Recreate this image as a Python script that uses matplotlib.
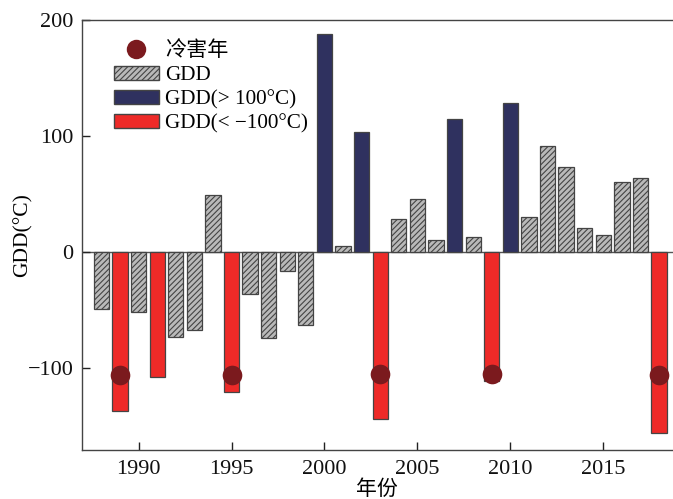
import matplotlib
matplotlib.use("Agg")
import matplotlib.pyplot as plt
from matplotlib.patches import Patch
from matplotlib.lines import Line2D
import numpy as np

years = list(range(1988, 2019))
gdd = [-49, -137, -52, -108, -73, -67, 49, -121, -36, -74, -16, -63,
       188, 5, 103, -144, 28, 46, 10, 115, 13, -111, 128, 30, 91, 73,
       21, 15, 60, 64, -156]
cold_years = [1989, 1995, 2003, 2009, 2018]
cold_marks = [-106, -106, -105, -105, -106]
xticks = [1990, 1995, 2000, 2005, 2010, 2015]
yticks = [-100, 0, 100, 200]

plt.rcParams['font.family'] = ['Liberation Serif', 'Noto Sans CJK SC', 'DejaVu Sans']
plt.rcParams['hatch.color'] = '#333333'
plt.rcParams['hatch.linewidth'] = 0.8

fig = plt.figure(figsize=(6.73, 4.99), dpi=100)
ax = fig.add_axes([0.1214, 0.0982, 0.8786, 0.8618])

gray = '#b9b9b9'
blue = '#2f315f'
red = '#ee2a28'
edge = '#444444'

for y, v in zip(years, gdd):
    if v > 100:
        ax.bar(y, v, width=0.82, color=blue, edgecolor=edge, linewidth=0.9, zorder=2)
    elif v < -100:
        ax.bar(y, v, width=0.82, color=red, edgecolor=edge, linewidth=0.9, zorder=2)
    else:
        ax.bar(y, v, width=0.82, color=gray, edgecolor=edge, linewidth=0.9,
               hatch='//////', zorder=2)

ax.scatter(cold_years, cold_marks, s=200, color='#7b1a1e', zorder=3, linewidths=0)
ax.axhline(0, color='#555555', linewidth=1.0, zorder=1)

ax.set_xlim(1986.94, 2018.75)
ax.set_ylim(-170.7, 200)
ax.set_xticks(xticks)
ax.set_yticks(yticks)
ax.tick_params(direction='in', length=6, width=1, labelsize=16, colors='#222222',
               labelcolor='#111111')
ax.tick_params(axis='x', pad=7)
ax.tick_params(axis='y', pad=6)
ax.spines['right'].set_visible(False)
for s in ['left', 'bottom', 'top']:
    ax.spines[s].set_color('#444444')
    ax.spines[s].set_linewidth(1.0)

ax.set_ylabel('GDD(°C)', fontsize=15.5, labelpad=-4)
ax.set_xlabel('年份', fontsize=15, labelpad=1)

handles = [
    Line2D([0], [0], marker='o', linestyle='none', markersize=14,
           markerfacecolor='#7b1a1e', markeredgewidth=0),
    Patch(facecolor=gray, edgecolor=edge, hatch='//////'),
    Patch(facecolor=blue, edgecolor=edge),
    Patch(facecolor=red, edgecolor=edge),
]
labels = ['冷害年', 'GDD', 'GDD(> 100°C)', 'GDD(< −100°C)']
ax.legend(handles, labels, loc='upper left', bbox_to_anchor=(0.055, 0.95),
          frameon=False, fontsize=15.2, handlelength=2.1, handleheight=0.7,
          handletextpad=0.3, labelspacing=0.2, borderpad=0, borderaxespad=0)

fig.savefig('out.png', dpi=100)
